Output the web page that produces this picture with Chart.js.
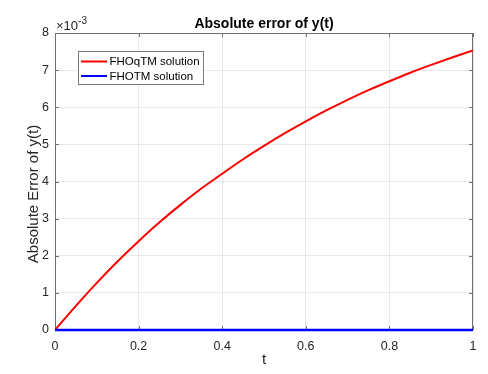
<!DOCTYPE html>
<html>
<head>
<meta charset="utf-8">
<script src="https://cdn.jsdelivr.net/npm/chart.js@4/dist/chart.umd.min.js"></script>
<style>
  html, body { margin: 0; padding: 0; background: #fff; }
  #wrap { width: 488px; height: 374px; }
</style>
</head>
<body>
<div id="wrap"><canvas id="errChart" width="488" height="374"></canvas></div>
<script>
// Absolute error of y(t), in units of 1e-3

const tValues = [0, 0.05, 0.1, 0.15, 0.2, 0.25, 0.3, 0.35, 0.4, 0.45, 0.5,
  0.55, 0.6, 0.65, 0.7, 0.75, 0.8, 0.85, 0.9, 0.95, 1.0];
const fhoqtmErr = [0, 0.65, 1.27, 1.85, 2.39, 2.9, 3.37, 3.81, 4.21, 4.6, 4.96,
  5.3, 5.62, 5.92, 6.2, 6.46, 6.7, 6.93, 7.14, 7.34, 7.53];
const fhotmErr = [0, 0, 0, 0, 0, 0, 0, 0, 0, 0, 0, 0, 0, 0, 0, 0, 0, 0, 0, 0, 0];
const seriesLabels = ['FHOqTM solution', 'FHOTM solution'];
const seriesColors = ['#ff0000', '#0000ff'];
const yTicks = [0, 1, 2, 3, 4, 5, 6, 7, 8];
const xTicks = [0, 0.2, 0.4, 0.6, 0.8, 1];

const fontFam = 'Arial, "Liberation Sans", Helvetica, sans-serif';
const axisGray = '#262626';

function toPoints(xs, ys) {
  return xs.map((x, i) => ({ x: x, y: ys[i] }));
}

// draws the matlab-ish bits: box, inner ticks, exponent, title, ylabel, legend
const matlabBits = {
  id: 'matlabBits',
  beforeDraw(chart) {
    const c = chart.ctx;
    c.save();
    c.fillStyle = '#fff';
    c.fillRect(0, 0, chart.width, chart.height);
    c.restore();
  },
  beforeDatasetsDraw(chart) {
    const c = chart.ctx;
    const a = chart.chartArea;
    const xs = chart.scales.x;
    const ys = chart.scales.y;
    c.save();
    // axes box
    c.strokeStyle = '#707070';
    c.lineWidth = 1;
    c.strokeRect(a.left + 0.5, a.top + 0.5, a.right - a.left - 1, a.bottom - a.top);

    // inward tick marks
    c.beginPath();
    xTicks.forEach(v => {
      const px = Math.round(xs.getPixelForValue(v)) + 0.5;
      c.moveTo(px, a.bottom); c.lineTo(px, a.bottom - 4);
      c.moveTo(px, a.top); c.lineTo(px, a.top + 4);
    });
    yTicks.forEach(v => {
      const py = Math.round(ys.getPixelForValue(v)) + 0.5;
      c.moveTo(a.left, py); c.lineTo(a.left + 4, py);
      c.moveTo(a.right, py); c.lineTo(a.right - 4, py);
    });
    c.stroke();
    c.restore();
  },
  afterDraw(chart) {
    const c = chart.ctx;
    const a = chart.chartArea;
    c.save();

    // x10^-3 exponent label
    c.fillStyle = axisGray;
    c.textBaseline = 'alphabetic';
    c.textAlign = 'left';
    c.font = '13px ' + fontFam;
    c.fillText('\u00d710', a.left + 1, a.top - 3);
    const w = c.measureText('\u00d710').width;
    c.font = '10px ' + fontFam;
    c.fillText('-3', a.left + 1 + w, a.top - 9);

    // title
    c.fillStyle = '#000';
    c.textAlign = 'center';
    c.textBaseline = 'middle';
    c.font = 'bold 14px ' + fontFam;
    c.fillText('Absolute error of y(t)', (a.left + a.right) / 2, 24);

    // y label
    c.fillStyle = axisGray;
    c.font = '15px ' + fontFam;
    c.translate(33.5, 194);
    c.rotate(-Math.PI / 2);
    c.fillText('Absolute Error of y(t)', 0, 0);
    c.setTransform(1, 0, 0, 1, 0, 0);

    // legend box
    const lx = 78, ly = 51, lw = 125, lh = 33;
    c.fillStyle = '#fff';
    c.fillRect(lx, ly, lw, lh);
    c.strokeStyle = '#7a7a7a';
    c.lineWidth = 1;
    c.strokeRect(lx + 0.5, ly + 0.5, lw, lh);
    c.font = '11.5px ' + fontFam;
    c.textAlign = 'left';
    c.textBaseline = 'middle';
    seriesLabels.forEach((lab, i) => {
      const cy = 61.5 + i * 14.5;
      c.strokeStyle = seriesColors[i];
      c.lineWidth = 2;
      c.beginPath();
      c.moveTo(81, cy); c.lineTo(107, cy);
      c.stroke();
      c.fillStyle = '#000';
      c.fillText(lab, 109.5, cy + 0.5);
    });
    c.restore();
  }
};

const ctx = document.getElementById('errChart').getContext('2d');
const chart = new Chart(ctx, {
  type: 'line',
  data: {
    datasets: [{
      label: seriesLabels[0],
      data: toPoints(tValues, fhoqtmErr),
      borderColor: seriesColors[0],
      borderWidth: 2,
      pointRadius: 0,
      cubicInterpolationMode: 'monotone',
      order: 2
    }, {
      label: seriesLabels[1],
      data: toPoints(tValues, fhotmErr),
      borderColor: seriesColors[1],
      borderWidth: 2.4,
      pointRadius: 0,
      clip: false,
      order: 1
    }]
  },
  options: {
    responsive: false,
    animation: false,
    events: [],
    layout: { padding: { left: 0, right: 15, top: 33, bottom: 0 } },
    plugins: {
      legend: { display: false },
      title: { display: false },
      tooltip: { enabled: false }
    },
    scales: {
      x: {
        type: 'linear',
        min: 0,
        max: 1,
        afterFit(scale) { scale.height = 44; },
        afterBuildTicks(scale) { scale.ticks = xTicks.map(v => ({ value: v })); },
        grid: { color: '#e8e8e8', drawTicks: false },
        border: { display: false },
        ticks: {
          padding: 9,
          color: axisGray,
          font: { family: fontFam, size: 12.5 },
          callback: v => (v === 0 || v === 1) ? String(v) : v.toFixed(1)
        },
        title: {
          display: true,
          text: 't',
          color: axisGray,
          font: { family: fontFam, size: 15 },
          padding: { top: 0, bottom: 5 }
        }
      },
      y: {
        type: 'linear',
        min: 0,
        max: 8,
        afterFit(scale) { scale.width = 55; },
        afterBuildTicks(scale) { scale.ticks = yTicks.map(v => ({ value: v })); },
        grid: { color: '#e8e8e8', drawTicks: false },
        border: { display: false },
        ticks: {
          padding: 6,
          color: axisGray,
          font: { family: fontFam, size: 12.5 },
          callback: v => String(v)
        }
      }
    }
  },
  plugins: [matlabBits]
});
</script>
</body>
</html>
